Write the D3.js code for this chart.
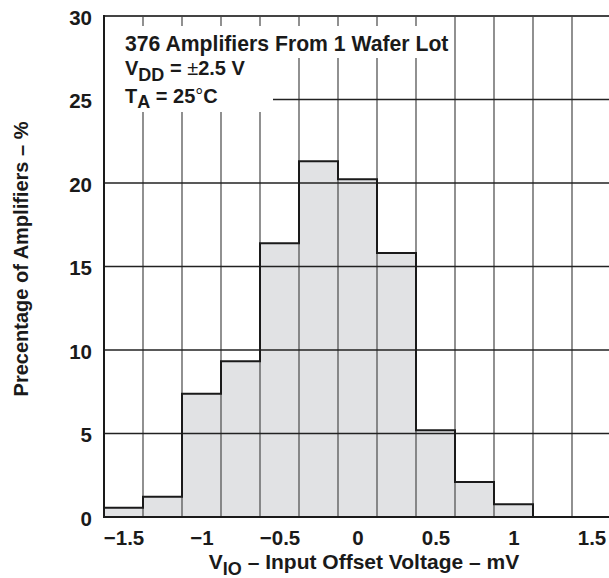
<!DOCTYPE html>
<html>
<head>
<meta charset="utf-8">
<script src="https://cdn.jsdelivr.net/npm/d3@7"></script>
<style>
  body { margin: 0; background: #fff; }
  svg text { font-family: "Liberation Sans", Arial, sans-serif; font-weight: bold; fill: #1a1a1a; }
</style>
</head>
<body>
<div id="chart"></div>
<script>
// histogram bins (bin centres in mV) and their share of amplifiers in %
let bin_centers = [-1.5, -1.25, -1, -0.75, -0.5, -0.25, 0, 0.25, 0.5, 0.75, 1, 1.25, 1.5];
let percents = [0.56, 1.22, 7.38, 9.32, 16.39, 21.3, 20.22, 15.81, 5.19, 2.1, 0.76, 0, 0];
let x_ticks = [-1.5, -1, -0.5, 0, 0.5, 1, 1.5];
let y_ticks = [0, 5, 10, 15, 20, 25, 30];
let y_grid = [5, 10, 15, 20, 25];
let bin_width = 0.25;

let w = 609, h = 578;
let p_left = 104, p_right = 611, p_top = 16, p_bottom = 517;

const x = d3.scaleLinear().domain([-1.625, 1.625]).range([p_left, p_right]);
const y = d3.scaleLinear().domain([0, 30]).range([p_bottom, p_top]);

var svg = d3.select("#chart").append("svg")
    .attr("width", w)
    .attr("height", h);

// bars
svg.append("g").selectAll("rect")
    .data(bin_centers)
    .enter().append("rect")
      .attr("x", function(d) { return x(d - bin_width / 2); })
      .attr("width", function(d) { return x(d + bin_width / 2) - x(d - bin_width / 2); })
      .attr("y", function(d, i) { return y(percents[i]); })
      .attr("height", function(d, i) { return y(0) - y(percents[i]); })
      .style("fill", "#e1e2e4");

// grid
let edges = bin_centers.slice(1).map(function(d) { return d - bin_width / 2; });
svg.append("g").selectAll("line")
    .data(edges)
    .enter().append("line")
      .attr("x1", function(d) { return x(d); })
      .attr("x2", function(d) { return x(d); })
      .attr("y1", y(30))
      .attr("y2", y(0))
      .style("stroke", "#555")
      .style("stroke-width", 1.3);

svg.append("g").selectAll("line")
    .data(y_grid)
    .enter().append("line")
      .attr("x1", p_left)
      .attr("x2", p_right)
      .attr("y1", function(d) { return y(d); })
      .attr("y2", function(d) { return y(d); })
      .style("stroke", "#222")
      .style("stroke-width", 1.3);

// white patches behind the note text
svg.append("rect").attr("x", p_left).attr("y", 26).attr("width", 348).attr("height", 32).style("fill", "#fff");
svg.append("rect").attr("x", p_left).attr("y", 57).attr("width", 169).attr("height", 55).style("fill", "#fff");

// histogram outline (step)
let step = [[x(bin_centers[0] - bin_width / 2), y(0)]];
bin_centers.forEach(function(d, i) {
    step.push([x(d - bin_width / 2), y(percents[i])]);
    step.push([x(d + bin_width / 2), y(percents[i])]);
});
step.push([x(bin_centers[bin_centers.length - 1] + bin_width / 2), y(0)]);

svg.append("path")
    .attr("d", d3.line()(step))
    .style("fill", "none")
    .style("stroke", "#1a1a1a")
    .style("stroke-width", 2);

// frame
svg.append("line").attr("x1", p_left).attr("x2", p_right).attr("y1", p_top).attr("y2", p_top)
    .style("stroke", "#444").style("stroke-width", 2);
svg.append("line").attr("x1", p_left).attr("x2", p_left).attr("y1", p_top - 1).attr("y2", p_bottom + 1)
    .style("stroke", "#1a1a1a").style("stroke-width", 2);
svg.append("line").attr("x1", p_left).attr("x2", p_right).attr("y1", p_bottom).attr("y2", p_bottom)
    .style("stroke", "#1a1a1a").style("stroke-width", 2);

// axes (labels only)
let y_axis = svg.append("g")
    .attr("transform", "translate(" + (p_left - 12) + ",0)")
    .call(d3.axisLeft(y).tickValues(y_ticks).tickSize(0).tickPadding(0).tickFormat(d3.format("d")));
y_axis.select(".domain").remove();
y_axis.selectAll("text").style("font-size", "20.5px").attr("dy", "0.4em");

let x_axis = svg.append("g")
    .attr("transform", "translate(0," + p_bottom + ")")
    .call(d3.axisBottom(x).tickValues(x_ticks).tickSize(0).tickPadding(0).tickFormat(d3.format("")));
x_axis.select(".domain").remove();
x_axis.selectAll("text").style("font-size", "20.5px").attr("y", 28).attr("dy", 0);

// axis titles
let xt = svg.append("text")
    .attr("x", 364)
    .attr("y", 569)
    .attr("text-anchor", "middle")
    .style("font-size", "21px");
xt.append("tspan").text("V");
xt.append("tspan").attr("dy", 6).style("font-size", "18px").text("IO");
xt.append("tspan").attr("dy", -6).text(" \u2013 Input Offset Voltage \u2013 mV");

svg.append("text")
    .attr("transform", "translate(28,259) rotate(-90)")
    .attr("text-anchor", "middle")
    .style("font-size", "20px")
    .text("Precentage of Amplifiers \u2013 %");

// note
svg.append("text")
    .attr("x", 125)
    .attr("y", 51)
    .style("font-size", "21.2px")
    .text("376 Amplifiers From 1 Wafer Lot");

let l2 = svg.append("text").attr("x", 125).attr("y", 75).style("font-size", "20px");
l2.append("tspan").text("V");
l2.append("tspan").attr("dy", 6).style("font-size", "18px").text("DD");
l2.append("tspan").attr("dy", -6).text(" = ");
l2.append("tspan").style("font-weight", "normal").text("\u00b1");
l2.append("tspan").text("2.5 V");

let l3 = svg.append("text").attr("x", 125).attr("y", 103).style("font-size", "20px");
l3.append("tspan").text("T");
l3.append("tspan").attr("dy", 5).style("font-size", "18px").text("A");
l3.append("tspan").attr("dy", -5).text(" = 25");
l3.append("tspan").style("font-weight", "normal").text("\u00b0");
l3.append("tspan").text("C");
</script>
</body>
</html>
